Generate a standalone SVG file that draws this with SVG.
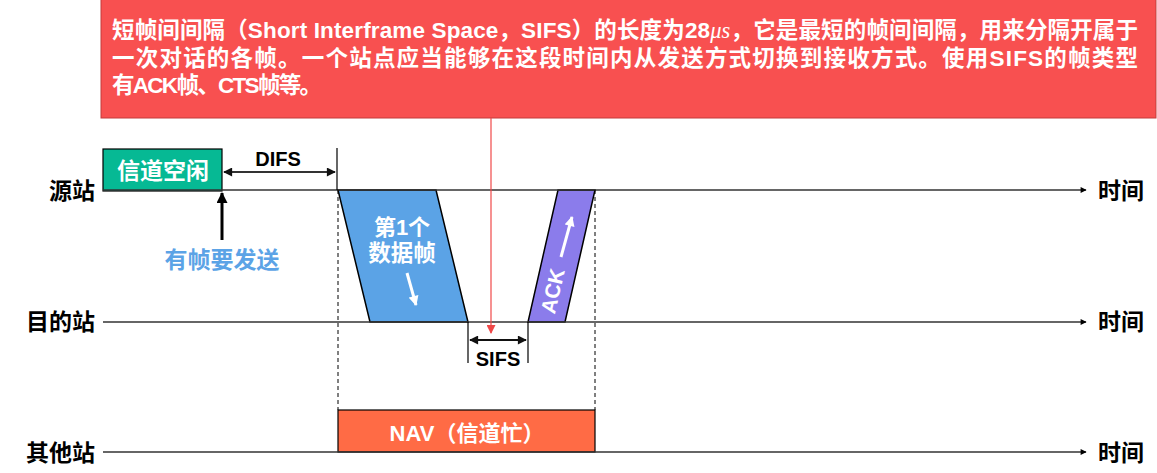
<svg xmlns="http://www.w3.org/2000/svg" width="1157" height="473" viewBox="0 0 1157 473">
<style>
.t{font-family:"Liberation Sans","Noto Sans CJK SC",sans-serif;font-weight:bold}
.w{fill:#fff}
.k{fill:#000}
.axis{stroke:#333;stroke-width:1.5;fill:none}
.dash{stroke:#000;stroke-width:1;stroke-dasharray:4,3;fill:none}
.solid{stroke:#000;stroke-width:1.2;fill:none}
</style>
<defs>
<marker id="ah" viewBox="0 0 10 10" refX="9" refY="5" markerWidth="7" markerHeight="6" markerUnits="userSpaceOnUse" orient="auto"><path d="M0,0L10,5L0,10z" fill="#000"/></marker>
<marker id="dh" viewBox="0 0 10 10" refX="9" refY="5" markerWidth="10" markerHeight="9" markerUnits="userSpaceOnUse" orient="auto-start-reverse"><path d="M0,0L10,5L0,10z" fill="#111"/></marker>
<marker id="bh" viewBox="0 0 10 10" refX="9" refY="5" markerWidth="12" markerHeight="11" markerUnits="userSpaceOnUse" orient="auto"><path d="M0,0L10,5L0,10z" fill="#000"/></marker>
<marker id="rh" viewBox="0 0 10 10" refX="9" refY="5" markerWidth="10" markerHeight="9" markerUnits="userSpaceOnUse" orient="auto"><path d="M0,0L10,5L0,10z" fill="#F04848"/></marker>
<marker id="wh" viewBox="0 0 10 10" refX="9" refY="5" markerWidth="11" markerHeight="10" markerUnits="userSpaceOnUse" orient="auto"><path d="M0,0L10,5L0,10z" fill="#fff"/></marker>
</defs>

<g id="note">
<rect x="101" y="-1" width="1055" height="119" fill="#F85050" stroke="#C43B3B" stroke-width="1"/>
<text class="t w" font-size="22.5" x="112" y="38" textLength="1026" lengthAdjust="spacing">短帧间间隔（Short Interframe Space，SIFS）的长度为28<tspan font-family="Liberation Serif,serif" font-style="italic" font-weight="normal">μs</tspan>，它是最短的帧间间隔，用来分隔开属于</text>
<text class="t w" font-size="22.5" x="112" y="66" textLength="1026" lengthAdjust="spacing">一次对话的各帧。一个站点应当能够在这段时间内从发送方式切换到接收方式。使用SIFS的帧类型</text>
<text class="t w" font-size="22.5" x="112" y="93" textLength="210" lengthAdjust="spacing">有ACK帧、CTS帧等。</text>
</g>

<g id="labels">
<text class="t k" font-size="23" x="95" y="199" text-anchor="end">源站</text>
<text class="t k" font-size="23" x="95" y="330" text-anchor="end">目的站</text>
<text class="t k" font-size="23" x="95" y="461" text-anchor="end">其他站</text>
<text class="t k" font-size="23" x="1098" y="199">时间</text>
<text class="t k" font-size="23" x="1098" y="330">时间</text>
<text class="t k" font-size="23" x="1098" y="461">时间</text>
<text class="t" font-size="23" x="222" y="268" text-anchor="middle" fill="#5BA3E6">有帧要发送</text>
<text class="t k" font-size="20" x="278" y="166" text-anchor="middle">DIFS</text>
<text class="t k" font-size="20" x="498" y="366" text-anchor="middle">SIFS</text>
</g>

<g id="idle">
<rect x="103" y="149" width="119" height="42" fill="#06B994" stroke="#000" stroke-width="1.2"/>
<text class="t w" font-size="23" x="163" y="179" text-anchor="middle">信道空闲</text>
</g>

<g id="data-frame">
<polygon points="338,190 436,190 468,322 370,322" fill="#5BA3E6" stroke="#000" stroke-width="1.5"/>
<text class="t w" font-size="22" x="402" y="235" text-anchor="middle">第1个</text>
<text class="t w" font-size="22.5" x="402" y="261" text-anchor="middle">数据帧</text>
<line x1="407" y1="273" x2="416" y2="305" stroke="#fff" stroke-width="3" marker-end="url(#wh)"/>
</g>

<g id="ack-frame">
<polygon points="558,190 595,190 565,322 528,322" fill="#8B7CEB" stroke="#000" stroke-width="1.5"/>
<text class="t w" font-size="21" x="553" y="298" text-anchor="middle" transform="rotate(-77 553 291)">ACK</text>
<line x1="561" y1="257" x2="572" y2="217" stroke="#fff" stroke-width="3" marker-end="url(#wh)"/>
</g>

<g id="nav">
<rect x="338" y="410" width="257" height="42" fill="#FF6B45" stroke="#000" stroke-width="1.2"/>
<text class="t w" font-size="22" x="467" y="441" text-anchor="middle">NAV（信道忙）</text>
</g>

<g id="connectors">
<line class="axis" x1="103" y1="190" x2="1086" y2="190" marker-end="url(#ah)"/>
<line class="axis" x1="103" y1="322" x2="1086" y2="322" marker-end="url(#ah)"/>
<line class="axis" x1="103" y1="452" x2="1086" y2="452" marker-end="url(#ah)"/>
<line class="solid" x1="337" y1="148" x2="337" y2="190"/>
<line class="dash" x1="338" y1="190" x2="338" y2="410"/>
<line class="dash" x1="595" y1="190" x2="595" y2="410"/>
<line x1="224" y1="172" x2="335" y2="172" stroke="#333" stroke-width="2" marker-start="url(#dh)" marker-end="url(#dh)"/>
<line class="solid" x1="468" y1="322" x2="468" y2="363"/>
<line class="solid" x1="528" y1="322" x2="528" y2="363"/>
<line x1="470" y1="340" x2="526" y2="340" stroke="#111" stroke-width="2" marker-start="url(#dh)" marker-end="url(#dh)"/>
<line x1="222" y1="240" x2="222" y2="193" stroke="#000" stroke-width="3" marker-end="url(#bh)"/>
<line x1="491" y1="118" x2="491" y2="333" stroke="#F04848" stroke-width="1.2" marker-end="url(#rh)"/>
</g>
</svg>
